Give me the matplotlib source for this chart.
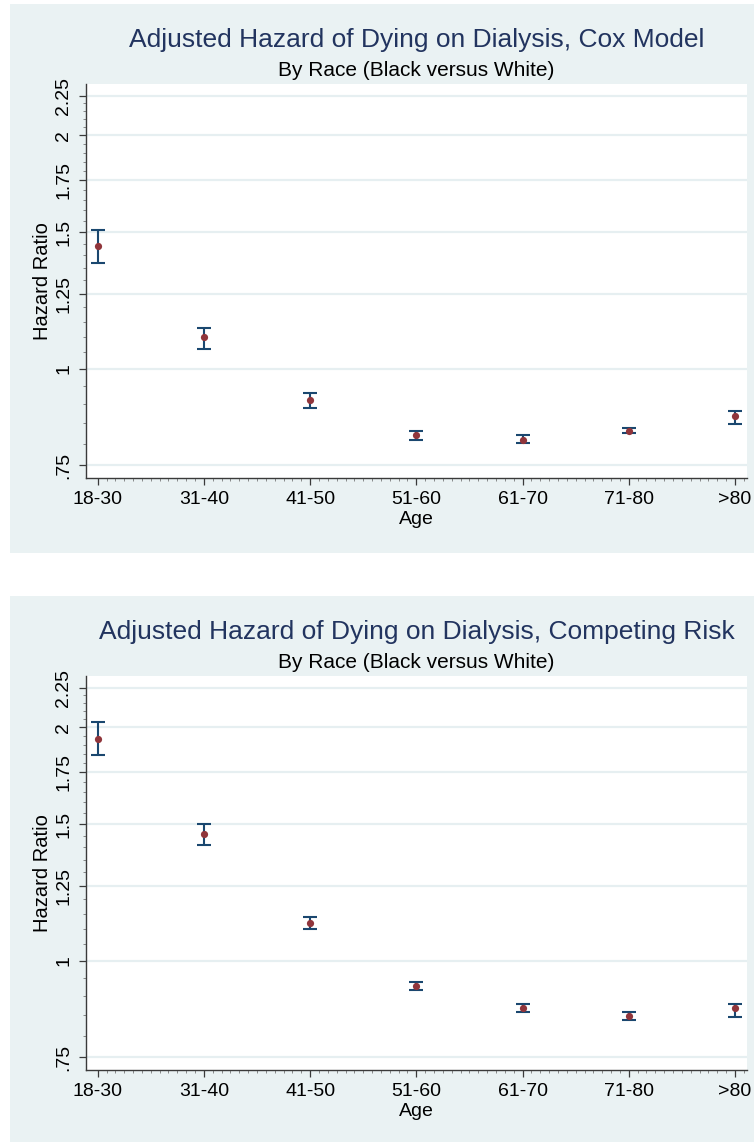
import numpy as np
import matplotlib
matplotlib.use("Agg")
import matplotlib.pyplot as plt
from matplotlib.patches import Rectangle
from matplotlib.ticker import FixedLocator, NullFormatter

plt.rcParams['font.family'] = ['Liberation Sans', 'DejaVu Sans']

# ---- data ----
age_groups = ["18-30", "31-40", "41-50", "51-60", "61-70", "71-80", ">80"]

cox_hr = [1.44, 1.10, 0.910, 0.821, 0.810, 0.831, 0.870]
cox_lo = [1.37, 1.06, 0.889, 0.810, 0.801, 0.826, 0.849]
cox_hi = [1.51, 1.13, 0.929, 0.830, 0.820, 0.838, 0.881]

cr_hr = [1.93, 1.458, 1.119, 0.928, 0.868, 0.849, 0.868]
cr_lo = [1.84, 1.409, 1.099, 0.917, 0.858, 0.838, 0.847]
cr_hi = [2.03, 1.500, 1.139, 0.938, 0.879, 0.859, 0.880]

ytick_vals = [0.75, 1, 1.25, 1.5, 1.75, 2, 2.25]
ytick_labels = [".75", "1", "1.25", "1.5", "1.75", "2", "2.25"]

titles = ["Adjusted Hazard of Dying on Dialysis, Cox Model",
          "Adjusted Hazard of Dying on Dialysis, Competing Risk"]
subtitle = "By Race (Black versus White)"
ylabel = "Hazard Ratio"
xlabel = "Age"

# ---- style ----
W, H = 754, 1142
BG = "#eaf2f3"
GRID = "#e6eff1"
BAR = "#1a476f"
DOT = "#90353b"
TITLE_C = "#22345f"
AX_C = "#3a3a3a"

fig = plt.figure(figsize=(W / 100, H / 100), dpi=100)
fig.patch.set_facecolor("white")

# background axes for the grey graph regions
bg = fig.add_axes([0, 0, 1, 1], zorder=-5)
bg.set_xlim(0, W)
bg.set_ylim(H, 0)
bg.axis("off")


def px_rect(x0, y0, x1, y1):
    return [x0 / W, 1 - y1 / H, (x1 - x0) / W, (y1 - y0) / H]


def panel(off, bottom_edge, title, hr, lo, hi):
    bg.add_patch(Rectangle((10, 4 + off), W - 10, bottom_edge - (4 + off),
                           facecolor=BG, edgecolor="none"))
    ax = fig.add_axes(px_rect(86, 84 + off, 746.7, 478 + off), zorder=1)
    ax.set_facecolor("white")
    x = np.arange(len(age_groups))
    hr = np.array(hr); lo = np.array(lo); hi = np.array(hi)
    ax.errorbar(x, hr, yerr=[hr - lo, hi - hr], fmt="none", ecolor=BAR,
                elinewidth=1.5, capsize=4.8, capthick=1.5, zorder=3)
    ax.plot(x, hr, "o", color=DOT, markersize=5.2, zorder=4, markeredgewidth=0)
    ax.set_yscale("log")
    ax.set_ylim(0.7226, 2.33)
    ax.set_xlim(-0.11, 6.11)
    ax.yaxis.set_major_locator(FixedLocator(ytick_vals))
    ax.set_yticklabels(ytick_labels, rotation=90, va="center", fontsize=14)
    minors = [v for v in np.arange(0.75, 2.2501, 0.05)
              if min(abs(v - t) for t in ytick_vals) > 1e-6]
    ax.yaxis.set_minor_locator(FixedLocator(minors))
    ax.yaxis.set_minor_formatter(NullFormatter())
    ax.set_xticks(x)
    ax.set_xticklabels(age_groups, fontsize=14)
    ax.xaxis.set_minor_locator(FixedLocator(np.arange(0.0, 6.11, 1 / 12)))
    for v in ytick_vals:
        ax.axhline(v, color=GRID, lw=1.6, zorder=1)
    for s in ["top", "right"]:
        ax.spines[s].set_visible(False)
    for s in ["left", "bottom"]:
        ax.spines[s].set_color(AX_C)
        ax.spines[s].set_linewidth(1.0)
    ax.tick_params(axis="both", which="major", length=5, width=0.9,
                   color=AX_C, labelcolor="black")
    ax.tick_params(axis="y", which="major", pad=5)
    ax.tick_params(axis="x", which="major", pad=4)
    ax.tick_params(axis="both", which="minor", length=2.2, width=0.6,
                   color="#777777")
    ax.set_ylabel(ylabel, fontsize=14.5, va="center")
    ax.yaxis.set_label_coords((42 - 86) / 660.7, 0.5)
    ax.set_xlabel(xlabel, fontsize=14)
    ax.xaxis.set_label_coords(0.5, -(520 - 478) / 394)
    ax.xaxis.label.set_va("center")
    fig.text(417 / W, 1 - (46.7 + off) / H, title, ha="center",
             va="baseline", fontsize=19, color=TITLE_C)
    fig.text(416 / W, 1 - (75.5 + off) / H, subtitle, ha="center",
             va="baseline", fontsize=15, color="black")
    return ax


panel(0, 553, titles[0], cox_hr, cox_lo, cox_hi)
panel(592, 1142, titles[1], cr_hr, cr_lo, cr_hi)

fig.savefig("out.png", dpi=100)
